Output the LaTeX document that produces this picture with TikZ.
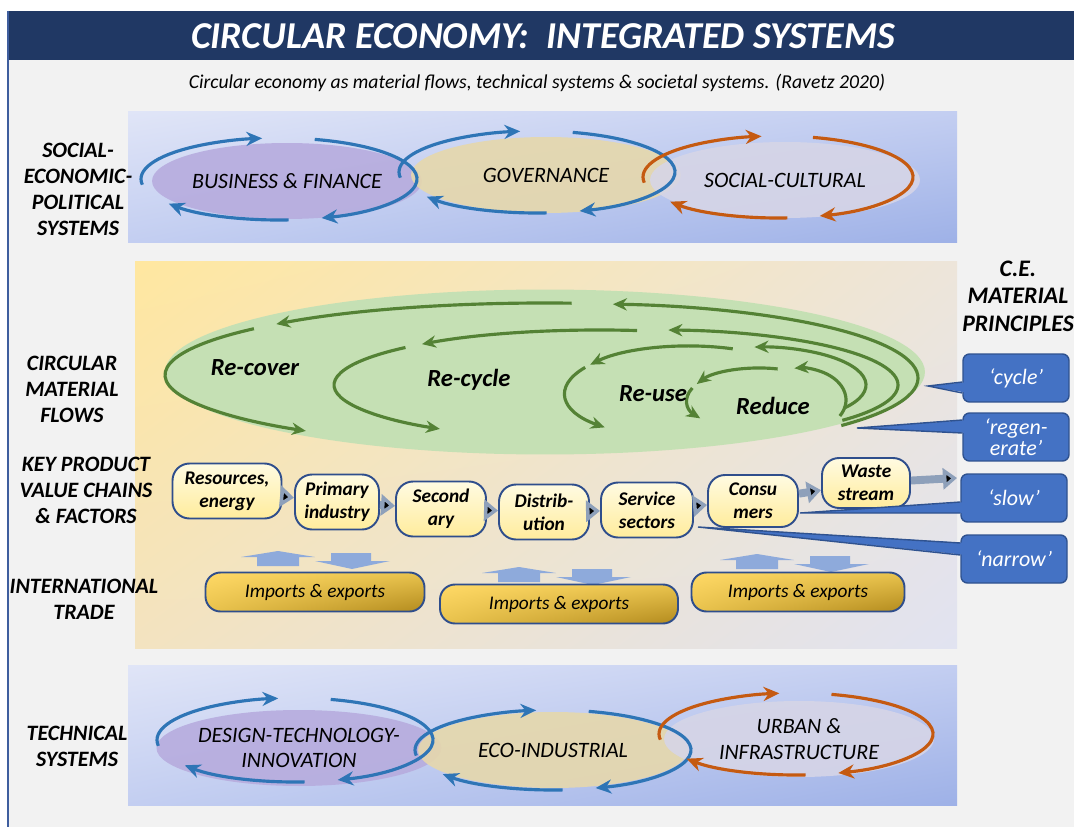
\documentclass[tikz,border=0pt]{standalone}
\usepackage{fontspec}
\setmainfont{Carlito}
\usetikzlibrary{arrows.meta,shapes.geometric,shadings,positioning}

\definecolor{titlenavy}{HTML}{203864}
\definecolor{pagegray}{HTML}{F2F2F2}
\definecolor{edgeblue}{HTML}{3F5E9E}
\definecolor{bandA}{HTML}{E0E5F7}
\definecolor{bandB}{HTML}{C3CEF1}
\definecolor{bandC}{HTML}{9EB1E7}
\definecolor{midA}{HTML}{FFE7A0}
\definecolor{midB}{HTML}{EDE5DA}
\definecolor{midC}{HTML}{F3E3C0}
\definecolor{midD}{HTML}{E1E3F1}
\definecolor{loopgreen}{HTML}{C5E0B4}
\definecolor{arrowgreen}{HTML}{548235}
\definecolor{sysblue}{HTML}{2E75B6}
\definecolor{sysorange}{HTML}{C55A11}
\definecolor{bizpurple}{HTML}{B7ACDE}
\definecolor{govtan}{HTML}{E6D8AC}
\definecolor{soclav}{HTML}{D6D5E7}
\definecolor{chaintop}{HTML}{FFFBE2}
\definecolor{chainbot}{HTML}{FFEC9C}
\definecolor{boxborder}{HTML}{2F4E8C}
\definecolor{linkgray}{HTML}{8EA0BA}
\definecolor{tradeblue}{HTML}{8EAADB}
\definecolor{goldA}{HTML}{FFD966}
\definecolor{goldM}{HTML}{E9C34D}
\definecolor{goldB}{HTML}{B38B1E}
\definecolor{callblue}{HTML}{4472C4}
\definecolor{callborder}{HTML}{2F528F}

\tikzset{
  sysellipse/.style={ellipse, inner sep=0pt, minimum width=5.4cm, minimum height=1.52cm,
    fill opacity=0.9, text opacity=1, align=center, font=\fontsize{12.5}{14.5}\selectfont\itshape},
  looparrow/.style={line width=1.8pt, -{Stealth[length=9pt,width=8pt]}},
  greenarrow/.style={draw=arrowgreen, line width=1.8pt, -{Stealth[length=8pt,width=7pt]}},
  flowlabel/.style={font=\fontsize{14}{16}\selectfont\bfseries\itshape},
  rowlabel/.style={align=center, font=\fontsize{12.5}{14.8}\selectfont\bfseries\itshape},
  chainbox/.style={draw=boxborder, line width=1.1pt, rounded corners=0.34cm, top color=chaintop,
    bottom color=chainbot, align=center, inner sep=1pt, minimum height=1.1cm,
    font=\fontsize{11}{13}\selectfont\bfseries\itshape},
  chainlink/.style={draw=linkgray, line width=4.5pt, -{Triangle[length=8pt,width=12pt]}},
  tradebox/.style={draw=boxborder, line width=1.1pt, rounded corners=0.3cm, upper left=goldA,
    upper right=goldM, lower left=goldM, lower right=goldB, minimum height=0.78cm,
    font=\fontsize{11}{13}\selectfont\itshape},
  principle/.style={draw=callborder, line width=0.8pt, fill=callblue, rounded corners=0.13cm,
    minimum width=2.12cm, minimum height=0.96cm, inner sep=1pt, text=white, align=center,
    font=\fontsize{12.5}{12}\selectfont\itshape},
}

% clockwise loop of three arrowed arcs round an ellipse
\newcommand{\sysloop}[4]{%
  \foreach \sa/\ea in {188/97,75/-72,-86/-143}
    \draw[looparrow, draw=#4] ([shift={({#2*cos(\sa)},{#3*sin(\sa)})}]#1)
      arc[start angle=\sa, end angle=\ea, x radius=#2, y radius=#3];
}

% pair of import/export block arrows
\newcommand{\tradearrows}[2]{%
  \fill[tradeblue] (#1,#2) ++(0,-6) -- ++(37,6) -- ++(37,-6) -- ++(-16,0) -- ++(0,-9)
    -- ++(-42,0) -- ++(0,9) -- cycle;
  \fill[tradeblue] (#1,#2) ++(90,-2) -- ++(40,0) -- ++(0,-8) -- ++(19,0) -- ++(-38,-8)
    -- ++(-37,8) -- ++(16,0) -- cycle;
}

% pointer of a principle box
\newcommand{\callpointer}[4]{%
  \fill[callblue] ([shift={(6,#2)}]#1.west) -- (#4) -- ([shift={(6,#3)}]#1.west) -- cycle;
  \draw[callborder, line width=0.8pt] ([shift={(0,#2)}]#1.west) -- (#4) -- ([shift={(0,#3)}]#1.west);
}

\begin{document}
\begin{tikzpicture}[x=0.02cm, y=0.02cm]
  \useasboundingbox (0,0) rectangle (1074,-827);

  % page and title
  \fill[pagegray] (8,-60) rectangle (1074,-827);
  \fill[titlenavy] (8,-11) rectangle (1074,-60);
  \draw[edgeblue, line width=0.8pt] (8,-11) -- (8,-827);
  \node[text=white, font=\fontsize{21.6}{24}\selectfont\bfseries\itshape] (title) at (543,-36)
    {CIRCULAR ECONOMY:~~INTEGRATED SYSTEMS};
  \node[font=\fontsize{11.2}{13}\selectfont\itshape] (subtitle) at (537,-83)
    {Circular economy as material flows, technical systems \& societal systems. (Ravetz 2020)};

  % societal systems
  \shade[upper left=bandA, upper right=bandB, lower left=bandB, lower right=bandC]
    (128,-112) rectangle (957,-243);
  \node[sysellipse, fill=bizpurple] (biz) at (287,-181) {BUSINESS \& FINANCE};
  \node[sysellipse, fill=govtan] (gov) at (546,-175) {GOVERNANCE};
  \node[sysellipse, fill=soclav] (soc) at (785,-180) {SOCIAL-CULTURAL};
  \sysloop{279,-179}{138}{41}{sysblue}
  \sysloop{537,-172}{138}{41}{sysblue}
  \sysloop{778,-177}{135}{41}{sysorange}

  % material flows
  \shade[upper left=midA, upper right=midB, lower left=midC, lower right=midD]
    (135,-262) rectangle (957,-648);
  \node[ellipse, fill=loopgreen, minimum width=15.2cm, minimum height=3.3cm] (loops) at (545,-372) {};
  \foreach \cx/\cy/\rx/\ry/\sa/\ea in {
      590/-378/328/74/-40/86, 545/-375/380/72/86/135, 545/-375/380/72/140/231,
      660/-385/238/55/-40/88, 600/-385/266/55/82/132, 600/-385/266/55/137/233,
      760/-385/106/38/-38/93, 690/-393/125/47/70/143, 690/-393/125/47/147/227,
      800/-400/46/32/-30/97,  760/-400/73/32/76/150,  760/-400/73/32/158/215}
    \draw[greenarrow] ([shift={({\rx*cos(\sa)},{\ry*sin(\sa)})}]\cx,\cy)
      arc[start angle=\sa, end angle=\ea, x radius=\rx, y radius=\ry];
  \node[flowlabel] (recover) at (255,-368) {Re-cover};
  \node[flowlabel] (recycle) at (469,-380) {Re-cycle};
  \node[flowlabel] (reuse) at (653,-394) {Re-use};
  \node[flowlabel] (reduce) at (773,-406) {Reduce};

  % value chain
  \node[chainbox, minimum width=2.18cm] (res) at (227,-491) {Resources,\\energy};
  \node[chainbox, minimum width=1.68cm] (prim) at (337,-502) {Primary\\industry};
  \node[chainbox, minimum width=1.8cm] (sec) at (441,-509) {Second\\ary};
  \node[chainbox, minimum width=1.8cm] (dist) at (544,-512) {Distrib-\\ution};
  \node[chainbox, minimum width=1.84cm] (serv) at (647,-510) {Service\\sectors};
  \node[chainbox, minimum width=1.8cm, minimum height=1.04cm] (cons) at (753,-501) {Consu\\mers};
  \node[chainbox, minimum width=1.76cm, minimum height=1cm] (waste) at (866,-483) {Waste\\stream};
  \coordinate (wasteout) at (957,-478);
  \path[chainlink]
    (res) edge (prim)
    (prim) edge (sec)
    (sec) edge (dist)
    (dist) edge (serv)
    (serv) edge (cons)
    (cons) edge (waste)
    (waste) edge (wasteout);

  % trade
  \tradearrows{241}{-551}
  \tradearrows{482}{-567}
  \tradearrows{720}{-554}
  \node[tradebox, minimum width=4.38cm] (imp1) at (315,-592) {Imports \& exports};
  \node[tradebox, minimum width=4.76cm] (imp2) at (559,-604) {Imports \& exports};
  \node[tradebox, minimum width=4.26cm] (imp3) at (798,-592) {Imports \& exports};

  % principles
  \node[rowlabel, font=\fontsize{13.5}{15.6}\selectfont\bfseries\itshape] (cehead) at (1018,-296)
    {C.E.\\MATERIAL\\PRINCIPLES};
  \node[principle] (cyc) at (1016,-378) {‘cycle’};
  \node[principle] (regen) at (1016,-437) {‘regen-\\erate’};
  \node[principle] (slow) at (1014,-498) {‘slow’};
  \node[principle] (narrow) at (1014,-559) {‘narrow’};
  \coordinate (cyctip) at (928,-386);
  \coordinate (regentip) at (857,-428);
  \coordinate (slowtip) at (800,-513);
  \coordinate (narrowtip) at (698,-527);
  \callpointer{cyc}{-4}{-15}{cyctip}
  \callpointer{regen}{17}{4}{regentip}
  \callpointer{slow}{-4}{-15}{slowtip}
  \callpointer{narrow}{16}{4}{narrowtip}

  % technical systems
  \shade[upper left=bandA, upper right=bandB, lower left=bandB, lower right=bandC]
    (128,-665) rectangle (957,-805);
  \node[sysellipse, fill=bizpurple] (design) at (299,-748) {DESIGN-TECHNOLOGY-\\INNOVATION};
  \node[sysellipse, fill=govtan] (eco) at (553,-750) {ECO-INDUSTRIAL};
  \node[sysellipse, fill=soclav] (urban) at (799,-739) {URBAN \&\\INFRASTRUCTURE};
  \sysloop{295,-740}{138}{42}{sysblue}
  \sysloop{553,-750}{138}{40}{sysblue}
  \sysloop{796,-734}{137}{41}{sysorange}

  % row labels
  \node[rowlabel] (socl) at (78,-189) {SOCIAL-\\ECONOMIC-\\POLITICAL\\SYSTEMS};
  \node[rowlabel] (circl) at (72,-389) {CIRCULAR\\MATERIAL\\FLOWS};
  \node[rowlabel] (keyl) at (86,-490) {KEY PRODUCT\\VALUE CHAINS\\\& FACTORS};
  \node[rowlabel] (intl) at (84,-599) {INTERNATIONAL\\TRADE};
  \node[rowlabel] (techl) at (77,-746) {TECHNICAL\\SYSTEMS};
\end{tikzpicture}
\end{document}
